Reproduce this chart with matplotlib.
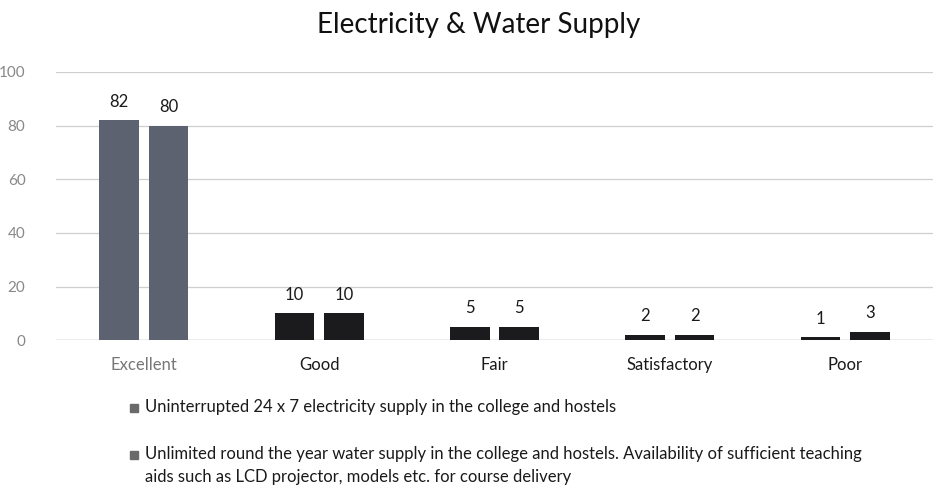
import numpy as np
import matplotlib
matplotlib.use("Agg")
import matplotlib.pyplot as plt
from matplotlib.patches import Rectangle

plt.rcParams['font.family'] = ['Lato', 'DejaVu Sans']

categories = ["Excellent", "Good", "Fair", "Satisfactory", "Poor"]
electricity = [82, 10, 5, 2, 1]
water = [80, 10, 5, 2, 3]
labels = ["Uninterrupted 24 x 7 electricity supply in the college and hostels",
          "Unlimited round the year water supply in the college and hostels. Availability of sufficient teaching\n"
          "aids such as LCD projector, models etc. for course delivery"]

W, H = 933, 493
fig = plt.figure(figsize=(W / 100, H / 100), dpi=100)
ax = fig.add_axes([0.06, 0.31, 0.94, 0.544])

x = np.arange(len(categories))
w = 0.226
off = 0.141
bar_cols = ["#5d6270" if c == "Excellent" else "#1b1b1d" for c in categories]
b1 = ax.bar(x - off, electricity, w, color=bar_cols, zorder=3)
b2 = ax.bar(x + off, water, w, color=bar_cols, zorder=3)

for bars, vals in ((b1, electricity), (b2, water)):
    for b, v in zip(bars, vals):
        ax.text(b.get_x() + b.get_width() / 2, v + 4, str(v), ha="center", va="bottom",
                fontsize=12, color="#1a1a1a")

ax.set_ylim(0, 100)
ax.set_xlim(-0.5, len(categories) - 0.5)
ax.set_yticks(range(0, 101, 20))
ax.set_xticks(x)
ax.set_xticklabels(categories, fontsize=12, color="#1a1a1a")
ax.get_xticklabels()[0].set_color("#777777")
ax.tick_params(axis="y", labelsize=11, labelcolor="#888888", length=0, pad=22)
ax.tick_params(axis="x", length=0, pad=12)
ax.yaxis.grid(True, color="#cfcfcf", linewidth=0.9, zorder=0)
for s in ax.spines.values():
    s.set_visible(False)
ax.axhline(0, color="#bdbdbd", linewidth=1, zorder=2)

fig.text(0.513, 1 - 25 / H, "Electricity & Water Supply", ha="center", va="center",
         fontsize=20, color="#111111")

# legend drawn by hand so the wrapped entry keeps its marker on the first line
for lab, ytop in zip(labels, [408, 455]):
    fig.patches.append(Rectangle((130 / W, 1 - (ytop + 4) / H), 8 / W, 8 / H,
                                 transform=fig.transFigure, color="#6a6a6a"))
    fig.text(145 / W, 1 - (ytop - 9) / H, lab, ha="left", va="top", fontsize=12,
             color="#1a1a1a", linespacing=1.55)

fig.savefig("out.png", dpi=100)
